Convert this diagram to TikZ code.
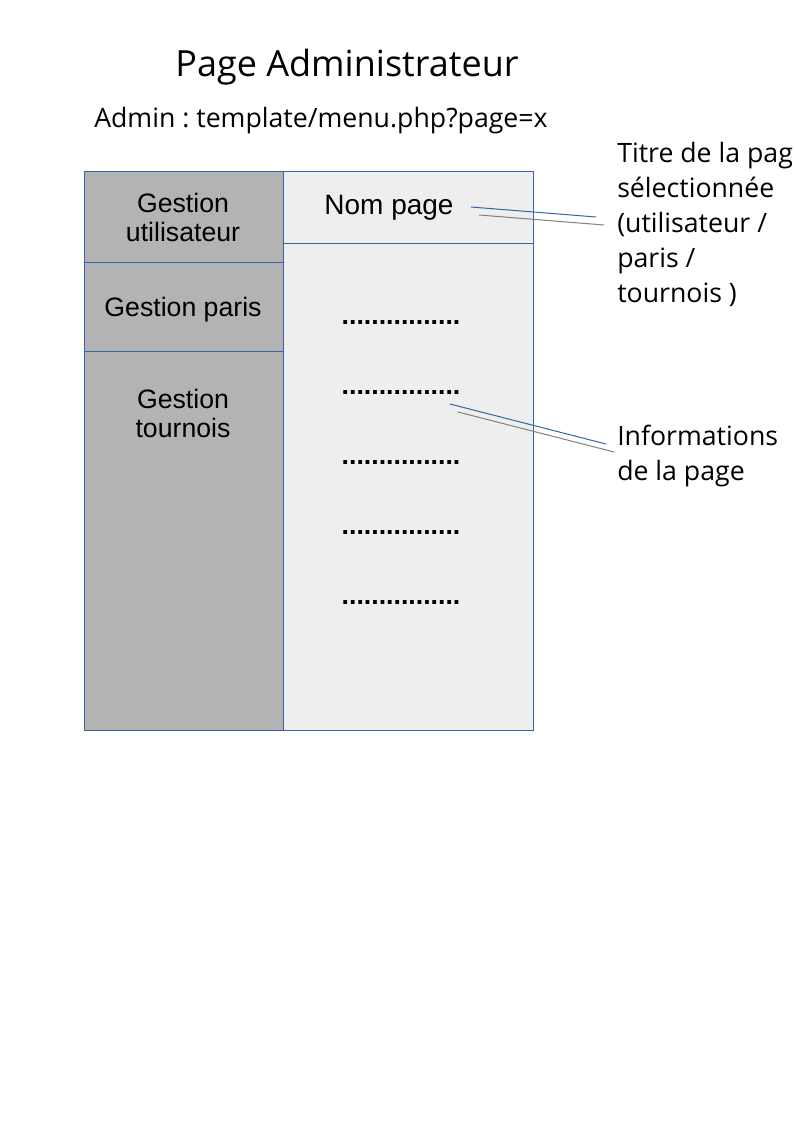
\documentclass[tikz,border=0pt]{standalone}
\usepackage{fontspec}
\setmainfont{Open Sans}
\newfontfamily\arialfont{Liberation Sans}
\definecolor{frameblue}{HTML}{3465A4}
\definecolor{menugray}{HTML}{B3B3B3}
\definecolor{panegray}{HTML}{EEEEEE}
\definecolor{shadowgray}{HTML}{808080}
\frenchspacing
\tikzset{
  menucell/.style={draw=frameblue, fill=menugray, line width=0.75pt},
  panecell/.style={draw=frameblue, fill=panegray, line width=0.75pt},
  celltext/.style={font=\arialfont\fontsize{20}{21.75}\selectfont, align=center, inner sep=0pt},
  dotrow/.style={font=\arialfont\bfseries\fontsize{20}{22}\selectfont, inner sep=0pt, anchor=base},
  note/.style={font=\fontsize{20}{26.25}\selectfont, align=left, inner sep=0pt, anchor=north west},
  callout/.style={draw=frameblue, line width=0.75pt},
  calloutshadow/.style={draw=shadowgray, line width=0.75pt}
}
\begin{document}
\begin{tikzpicture}[x=0.75pt, y=-0.75pt]
\useasboundingbox (0,0) rectangle (794,1123);

% headings
\node[font=\fontsize{27}{32}\selectfont, inner sep=0pt] (title) at (347,67) {Page Administrateur};
\node[font=\fontsize{20}{24}\selectfont, inner sep=0pt, anchor=west] (route) at (94,121) {Admin : template/menu.php?page=x};

% left menu
\path[menucell] (84,172) rectangle (283,262);
\path[menucell] (84,262) rectangle (283,351);
\path[menucell] (84,351) rectangle (283,730);
\node[celltext] (gu) at (183,217) {Gestion\\utilisateur};
\node[celltext] (gp) at (183,310) {Gestion paris};
\node[celltext] (gt) at (183,413) {Gestion\\tournois};

% right pane
\path[panecell] (283,172) rectangle (533,243);
\path[panecell] (283,243) rectangle (533,730);
\node[celltext, font=\arialfont\fontsize{21}{22}\selectfont] (nompage) at (389,208) {Nom page};
\node[dotrow] (d1) at (401,324) {................};
\node[dotrow] (d2) at (401,394) {................};
\node[dotrow] (d3) at (401,464) {................};
\node[dotrow] (d4) at (401,534) {................};
\node[dotrow] (d5) at (401,604) {................};

% side notes
\node[note] (titre) at (617,142) {Titre de la pag\\sélectionnée\\(utilisateur /\\paris /\\tournois )};
\node[note] (infos) at (617,425) {Informations\\de la page};

% callout lines
\coordinate (ca1) at (471,207);
\coordinate (cb1) at (596,217);
\coordinate (ca2) at (479,215);
\coordinate (cb2) at (604,225);
\coordinate (ia1) at (450,404);
\coordinate (ib1) at (606,444);
\coordinate (ia2) at (458,412);
\coordinate (ib2) at (614,452);
\draw[callout] (ca1) -- (cb1);
\draw[calloutshadow] (ca2) -- (cb2);
\draw[callout] (ia1) -- (ib1);
\draw[calloutshadow] (ia2) -- (ib2);
\end{tikzpicture}
\end{document}
